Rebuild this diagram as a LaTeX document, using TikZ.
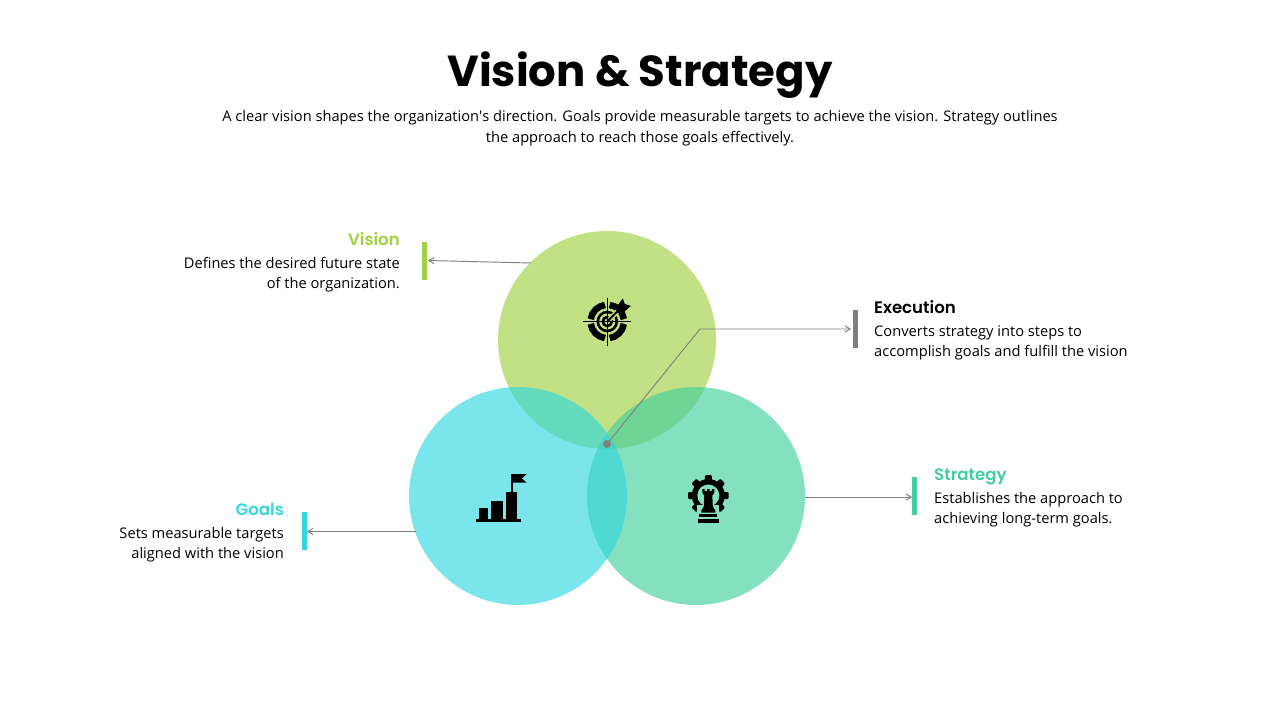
\documentclass[tikz,border=0pt]{standalone}
\usepackage{fontspec}
\setmainfont{Open Sans}
\newfontfamily\headfont{Poppins}[UprightFont=*-SemiBold,BoldFont=*-Bold]
\usetikzlibrary{arrows.meta}
\definecolor{visioncol}{HTML}{A1D142}
\definecolor{goalscol}{HTML}{33D7DF}
\definecolor{strategycol}{HTML}{42CF9D}
\definecolor{linecol}{HTML}{7F7F7F}
\definecolor{targetbg}{HTML}{C2E184}
\definecolor{gearbg}{HTML}{84E0BF}
\tikzset{
    venn/.style={circle,minimum size=218pt,inner sep=0pt,fill opacity=0.65},
    mark bar/.style={minimum width=5pt,minimum height=38pt,inner sep=0pt},
    leader/.style={draw=linecol,line width=0.95pt,-{Straight Barb[length=5pt,width=6pt]}},
    head/.style={font=\headfont\fontsize{16.6}{18}\selectfont,inner sep=0pt},
    body/.style={font=\fontsize{14.65}{20.2}\selectfont,inner sep=0pt},
}
\begin{document}
\begin{tikzpicture}[x=1pt,y=-1pt]
    \useasboundingbox (0,0) rectangle (1280,720);
    % title
    \node[inner sep=0pt,font=\headfont\bfseries\fontsize{43.4}{50}\selectfont] (title) at (640,75.5) {Vision \& Strategy};
    \node[body,align=center,anchor=north] (intro) at (640,110.5) {A clear vision shapes the organization\textquotesingle s direction. Goals provide measurable targets to achieve the vision. Strategy outlines\\the approach to reach those goals effectively.};
    % circles
    \node[venn,fill=visioncol] (vision) at (607,340) {};
    \node[venn,fill=strategycol] (strategy) at (696,496) {};
    \node[venn,fill=goalscol] (goals) at (518,496) {};
    % bars
    \node[mark bar,fill=visioncol] (visionbar) at (424.5,261) {};
    \node[mark bar,fill=linecol] (execbar) at (855.5,329) {};
    \node[mark bar,fill=strategycol] (strategybar) at (914.5,496) {};
    \node[mark bar,fill=goalscol] (goalsbar) at (304.5,531) {};
    % labels
    \node[head,text=visioncol,anchor=base east] (visionhead) at (400,245) {Vision};
    \node[body,align=right,anchor=north east] (visiontext) at (400,257) {Defines the desired future state\\of the organization.};
    \node[head,anchor=base west] (exechead) at (874,313) {Execution};
    \node[body,align=left,anchor=north west] (exectext) at (874,325.5) {Converts strategy into steps to\\accomplish goals and fulfill the vision};
    \node[head,text=strategycol,anchor=base west] (strategyhead) at (934,480) {Strategy};
    \node[body,align=left,anchor=north west] (strategytext) at (934,492) {Establishes the approach to\\achieving long-term goals.};
    \node[head,text=goalscol,anchor=base east] (goalshead) at (284,515) {Goals};
    \node[body,align=right,anchor=north east] (goalstext) at (284,527) {Sets measurable targets\\aligned with the vision};
    % connectors
    \coordinate (visionstart) at (531,263);
    \coordinate (visionend) at (428,260.5);
    \coordinate (goalsstart) at (416,531.5);
    \coordinate (goalsend) at (307,531.5);
    \coordinate (strategystart) at (805,497);
    \coordinate (strategyend) at (912,497);
    \coordinate (execelbow) at (700,329);
    \coordinate (execend) at (851,329);
    \node[circle,fill=linecol,minimum size=8pt,inner sep=0pt] (execdot) at (607,444) {};
    \draw[leader] (visionstart) -- (visionend);
    \draw[leader] (goalsstart) -- (goalsend);
    \draw[leader] (strategystart) -- (strategyend);
    \draw[leader] (execdot.center) -- (execelbow) -- (execend);
    % target icon
    \begin{scope}[shift={(607.3,321.5)}]
        \foreach \a/\b in {8/82,98/172,188/262,278/352}
            \draw[line width=6.5pt] (\a:16.7) arc[start angle=\a,end angle=\b,radius=16.7];
        \draw[line width=2.6pt] (0,0) circle (9.5);
        \draw[line width=2.6pt] (0,0) circle (4.5);
        \draw[line width=1.3pt] (-24,0) -- (24,0) (0,-24) -- (0,24);
        \draw[line width=5pt,draw=targetbg] (2,-2) -- (14,-14);
        \draw[line width=2pt] (0,0) -- (12,-12);
        \fill (8.5,-14) -- (15.5,-23) -- (17.5,-17.5) -- (23.5,-15.5) -- (15,-8) -- (9.5,-8.5) -- cycle;
    \end{scope}
    % flag icon
    \fill (476,519) rectangle (521,522);
    \fill (479.3,507.5) rectangle (488,519);
    \fill (491.3,501) rectangle (502.7,519);
    \fill (506,492) rectangle (517.3,519);
    \fill (510.7,474) rectangle (512.7,492);
    \fill (512,474) -- (526.7,474) -- (521.7,478.3) -- (526.7,482.7) -- (512,482.7) -- cycle;
    % gear icon
    \begin{scope}[shift={(708.3,495.5)}]
        \foreach \a in {0,45,...,315}
            \fill[rotate=\a,rounded corners=1pt] (-3.5,-20.3) rectangle (3.5,-14);
        \fill (0,0) circle (16.5);
        \fill[gearbg] (0,0) circle (11);
        \fill[gearbg] (-11,9) rectangle (11,22);
        \fill (-6,-2.7) -- (-6,-6.5) -- (-3.6,-6.5) -- (-3.6,-4.5) -- (-1.2,-4.5) -- (-1.2,-6.5) -- (1.2,-6.5) -- (1.2,-4.5) -- (3.6,-4.5) -- (3.6,-6.5) -- (6,-6.5) -- (6,-2.7) -- (4,0) -- (4.5,11) -- (7,15) -- (7,17) -- (-7,17) -- (-7,15) -- (-4.5,11) -- (-4,0) -- cycle;
        \fill (-9,18.5) rectangle (9,21);
        \fill (-10.5,23) rectangle (10.5,27.5);
    \end{scope}
\end{tikzpicture}
\end{document}
